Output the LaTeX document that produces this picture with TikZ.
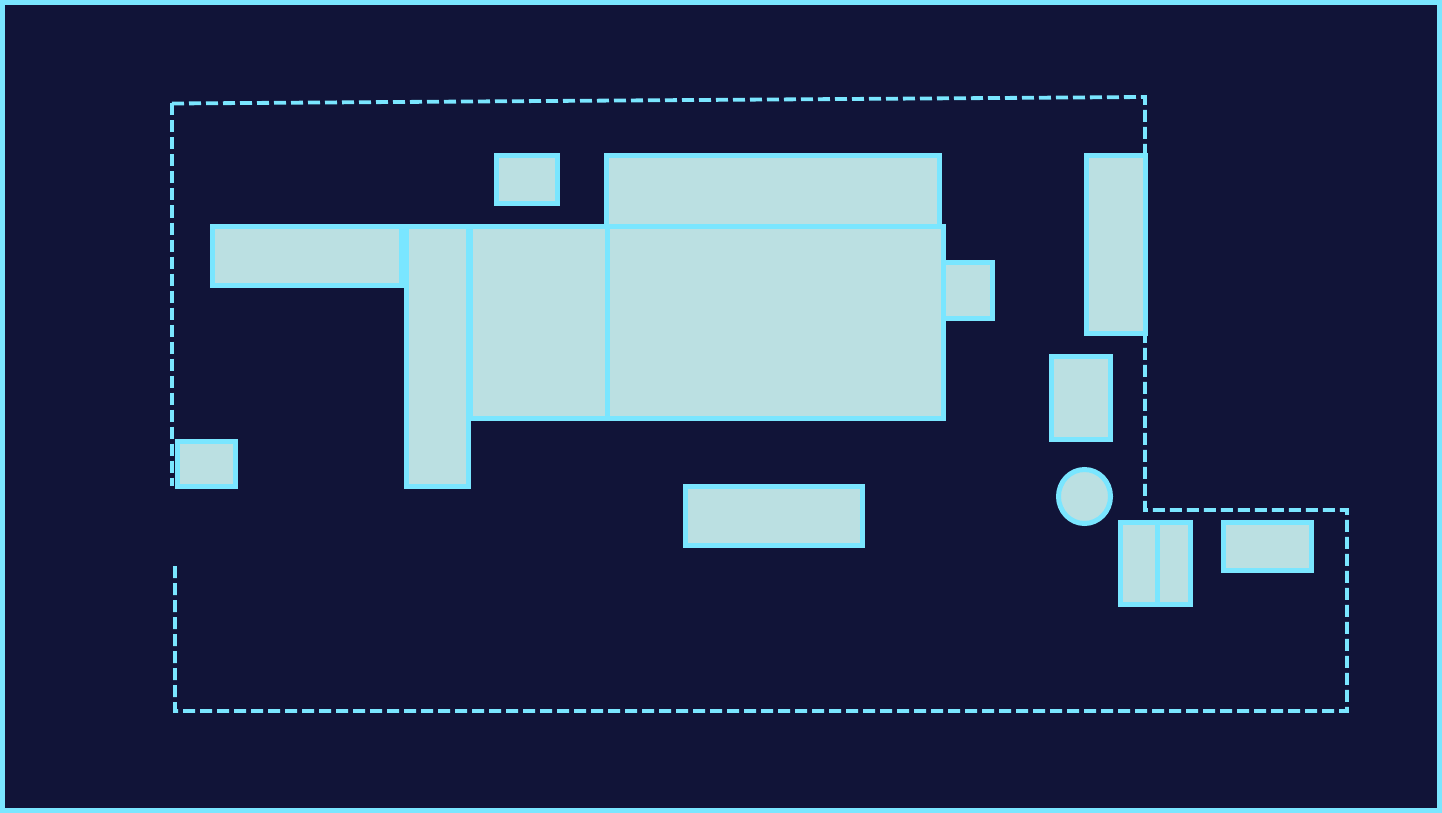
\documentclass[tikz,border=0pt]{standalone}
\usepackage{tikz}
\definecolor{planbg}{HTML}{111438}
\definecolor{wallcyan}{HTML}{7AE6FF}
\definecolor{roomfill}{HTML}{BBE0E2}

\tikzset{
  room/.style={draw=wallcyan, fill=roomfill, line width=5pt},
  boundary/.style={draw=wallcyan, line width=3.8pt, dash pattern=on 12pt off 5pt}
}

\begin{document}
\begin{tikzpicture}[x=1pt, y=-1pt]

        % frame and background
        \fill[planbg] (0,0) rectangle (1442,813);
        \draw[wallcyan, line width=5pt] (2.5,2.5) rectangle (1439.5,810.5);
        \useasboundingbox (0,0) rectangle (1442,813);

        % site boundary
        \coordinate (topleft) at (172,103.5);
        \coordinate (topright) at (1145,97);
        \coordinate (notch) at (1145,510);
        \coordinate (eastend) at (1347,510);
        \coordinate (southeast) at (1347,711);
        \coordinate (southwest) at (175,711);
        \draw[boundary] (topleft) -- (topright) -- (notch) -- (eastend) -- (southeast) -- (southwest) -- (175,566);
        \draw[boundary] (topleft) -- (172,486);

        % rooms
        \draw[room] (212.5,226.5) rectangle (401.5,285.5);
        \draw[room] (606.5,155.5) rectangle (939.5,226.5);
        \draw[room] (406.5,226.5) rectangle (468.5,486.5);
        \draw[room] (470.5,226.5) rectangle (607.5,418.5);
        \draw[room] (607.5,226.5) rectangle (943.5,418.5);
        \draw[room] (496.5,155.5) rectangle (557.5,203.5);
        \draw[room] (943.5,262.5) rectangle (992.5,318.5);
        \draw[room] (1086.5,155.5) rectangle (1145.5,333.5);
        \draw[room] (1051.5,356.5) rectangle (1110.5,439.5);
        \draw[room] (1084.5,496.5) ellipse (26pt and 27pt);
        \draw[room] (1120.5,522.5) rectangle (1190.5,604.5);
        \draw[wallcyan, line width=5pt] (1157.5,522.5) -- (1157.5,604.5);
        \draw[room] (1223.5,522.5) rectangle (1311.5,570.5);
        \draw[room] (685.5,486.5) rectangle (862.5,545.5);
        \draw[room] (177.5,441.5) rectangle (235.5,486.5);

    \end{tikzpicture}
\end{document}
